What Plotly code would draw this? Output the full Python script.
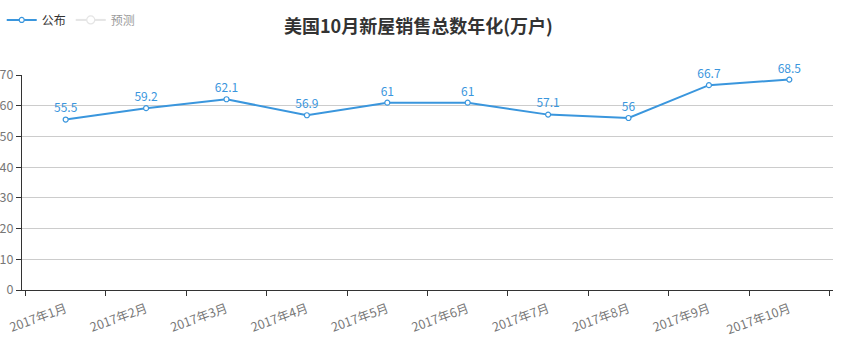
import plotly.graph_objects as go

categories = ["2017年1月", "2017年2月", "2017年3月", "2017年4月", "2017年5月",
              "2017年6月", "2017年7月", "2017年8月", "2017年9月", "2017年10月"]
published = [55.5, 59.2, 62.1, 56.9, 61, 61, 57.1, 56, 66.7, 68.5]
forecast = [None] * len(categories)
labels = ["55.5", "59.2", "62.1", "56.9", "61", "61", "57.1", "56", "66.7", "68.5"]

blue = "#3a96dd"
font = "Microsoft YaHei, Noto Sans CJK SC, sans-serif"

fig = go.Figure()
fig.add_trace(go.Scatter(
    x=categories, y=published, name="公布", mode="lines+markers+text",
    text=labels, textposition="top center",
    textfont=dict(color=blue, size=12, family=font),
    line=dict(color=blue, width=2),
    marker=dict(symbol="circle", size=5, color="white", line=dict(width=1.2, color=blue)),
    cliponaxis=False,
))
fig.add_trace(go.Scatter(
    x=categories, y=forecast, name="预测", mode="lines+markers",
    line=dict(color="#cccccc", width=2),
    marker=dict(symbol="circle", size=8, color="white", line=dict(width=1.2, color="#cccccc")),
    visible="legendonly",
))

fig.update_layout(
    width=847, height=357,
    margin=dict(l=22, r=14, t=75, b=67, autoexpand=False),
    paper_bgcolor="white", plot_bgcolor="white",
    font=dict(family=font, size=12, color="#666666"),
    title=dict(text="<b>美国10月新屋销售总数年化(万户)</b>", x=0.494, xanchor="center",
               y=0.924, yanchor="middle", yref="container",
               font=dict(size=18, color="#333333", family=font)),
    legend=dict(orientation="h", x=-0.025, y=1.256, xanchor="left", yanchor="middle",
                font=dict(size=12, color="#333333", family=font), itemwidth=30),
    showlegend=True,
)
fig.update_xaxes(
    type="category", tickson="boundaries", ticks="outside", ticklen=5,
    tickcolor="#333333", showline=True, linecolor="#333333", linewidth=1,
    tickangle=-20, showgrid=False, automargin=False, ticklabelstandoff=6,
    tickfont=dict(size=12.5, color="#777777", family=font),
)
fig.update_yaxes(
    range=[0, 70], dtick=10, ticks="outside", ticklen=5, tickcolor="#333333",
    showline=True, linecolor="#333333", linewidth=1, automargin=False,
    showgrid=True, gridcolor="#cccccc", gridwidth=1, zeroline=False,
    tickfont=dict(size=12.5, color="#777777", family=font),
)

fig.write_html("out.html", config={"displayModeBar": False},
               post_script="document.body.style.margin='0';document.body.style.overflow='hidden';")
